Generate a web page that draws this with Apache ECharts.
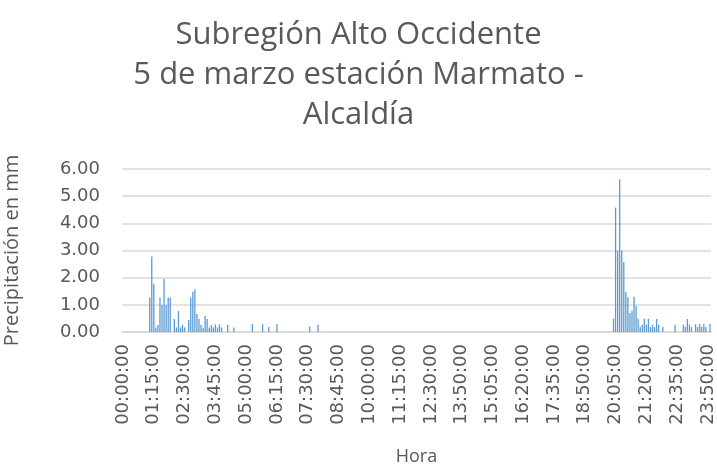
<!DOCTYPE html>
<html>
<head>
<meta charset="utf-8">
<script src="https://cdn.jsdelivr.net/npm/echarts@6/dist/echarts.min.js"></script>
<style>
  html, body { margin: 0; padding: 0; background: #fff; }
</style>
</head>
<body>
<div id="main" style="width: 717px;height: 470px"></div>
<script>
// 5-minute readings for the day; the 13:00:00 reading is missing in the source
var pad = function (n) { return (n < 10 ? '0' : '') + n; };
var hours = [];
for (var m = 0; m < 24 * 60; m += 5) {
  if (m === 13 * 60) continue;
  hours.push(pad(Math.floor(m / 60)) + ':' + pad(m % 60) + ':00');
}

// only the readings with rain (every other slot is 0)
var rainHours = [
  '01:05:00', '01:10:00', '01:15:00', '01:20:00', '01:25:00', '01:30:00', '01:35:00',
  '01:40:00', '01:45:00', '01:50:00', '01:55:00', '02:05:00', '02:10:00', '02:15:00',
  '02:20:00', '02:25:00', '02:30:00', '02:40:00', '02:45:00', '02:50:00', '02:55:00',
  '03:00:00', '03:05:00', '03:10:00', '03:15:00', '03:20:00', '03:25:00', '03:30:00',
  '03:35:00', '03:40:00', '03:45:00', '03:50:00', '03:55:00', '04:00:00', '04:15:00',
  '04:30:00', '05:15:00', '05:40:00', '05:55:00', '06:15:00', '07:35:00', '07:55:00',
  '20:00:00', '20:05:00', '20:10:00', '20:15:00', '20:20:00', '20:25:00', '20:30:00',
  '20:35:00', '20:40:00', '20:45:00', '20:50:00', '20:55:00', '21:00:00', '21:05:00',
  '21:10:00', '21:15:00', '21:20:00', '21:25:00', '21:30:00', '21:35:00', '21:40:00',
  '21:45:00', '21:50:00', '22:00:00', '22:30:00', '22:50:00', '22:55:00', '23:00:00',
  '23:05:00', '23:10:00', '23:20:00', '23:25:00', '23:30:00', '23:35:00', '23:40:00',
  '23:45:00', '23:55:00'
];
var rainValues = [
  1.27, 2.78, 1.78, 0.17, 0.26, 1.27, 0.99,
  1.95, 0.99, 1.27, 1.27, 0.48, 0.17, 0.77,
  0.17, 0.26, 0.17, 0.44, 1.27, 1.48, 1.57,
  0.66, 0.48, 0.26, 0.16, 0.59, 0.48, 0.17,
  0.26, 0.17, 0.28, 0.17, 0.28, 0.17, 0.26,
  0.17, 0.29, 0.29, 0.18, 0.29, 0.2, 0.27,
  0.49, 4.58, 3.0, 5.62, 3.0, 2.57, 1.47,
  1.28, 0.7, 0.78, 1.3, 0.97, 0.49, 0.18,
  0.27, 0.49, 0.27, 0.49, 0.18, 0.27, 0.18,
  0.48, 0.27, 0.18, 0.27, 0.27, 0.18, 0.48,
  0.27, 0.18, 0.29, 0.18, 0.29, 0.18, 0.29,
  0.18, 0.29
];
var yTicks = [0, 1, 2, 3, 4, 5, 6];

var chartDom = document.getElementById('main');
var myChart = echarts.init(chartDom);
var option;

var pairs = [];
for (var i = 0; i < rainHours.length; i++) {
  pairs.push([rainHours[i], rainValues[i]]);
}

option = {
  animation: false,
  textStyle: { fontFamily: 'DejaVu Sans' },
  title: {
    text: 'Subregión Alto Occidente\n5 de marzo estación Marmato -\nAlcaldía',
    left: 'center',
    top: 10,
    textStyle: {
      fontFamily: 'Open Sans',
      fontWeight: 'normal',
      fontSize: 31,
      lineHeight: 40,
      color: '#595959'
    }
  },
  grid: {
    left: 122,
    right: 6,
    top: 169,
    bottom: 138,
    outerBoundsMode: 'none'
  },
  xAxis: {
    type: 'category',
    data: hours,
    name: 'Hora',
    nameLocation: 'middle',
    nameGap: 116,
    nameTextStyle: { fontSize: 18, color: '#595959', fontFamily: 'Open Sans' },
    axisTick: { show: false },
    axisLine: { lineStyle: { color: '#d9d9d9', width: 1.5 } },
    axisLabel: {
      interval: 14,
      rotate: 90,
      margin: 12,
      padding: [7, 0, 0, 0],
      fontSize: 18,
      color: '#595959'
    }
  },
  yAxis: {
    type: 'value',
    min: yTicks[0],
    max: yTicks[yTicks.length - 1],
    interval: 1,
    name: 'Precipitación en mm',
    nameLocation: 'middle',
    nameGap: 100,
    nameTextStyle: { fontSize: 20, color: '#595959', fontFamily: 'Open Sans' },
    axisLabel: {
      fontSize: 18,
      margin: 22,
      color: '#595959',
      formatter: function (v) { return v.toFixed(2); }
    },
    splitLine: { lineStyle: { color: '#d9d9d9', width: 1.5 } }
  },
  series: [
    {
      name: 'Precipitación',
      type: 'bar',
      barWidth: 1.3,
      itemStyle: { color: '#5b9bd5' },
      data: pairs
    }
  ]
};

option && myChart.setOption(option);
</script>
</body>
</html>
